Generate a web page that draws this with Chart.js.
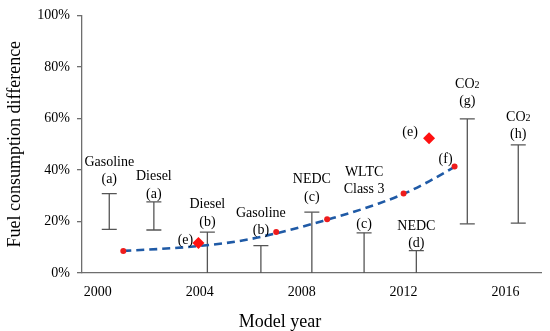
<!DOCTYPE html>
<html>
<head>
<meta charset="utf-8">
<script src="https://cdn.jsdelivr.net/npm/chart.js@4"></script>
<style>
  html, body { margin: 0; padding: 0; background: #fff; }
  #wrap { width: 550px; height: 331px; }
</style>
</head>
<body>
<div id="wrap"><canvas id="chart" width="550" height="331"></canvas></div>
<script>
// vertical ranges (a)..(h)
const barYears = [2000.45, 2002.2, 2004.3, 2006.4, 2008.4, 2010.45, 2012.5, 2014.5, 2016.5]
const barLow = [16.9, 16.7, 0, 0, 0, 0, 0, 19.1, 19.4]
const barHigh = [30.8, 27.6, 15.9, 10.6, 23.6, 15.6, 8.7, 59.8, 49.7]
const barLines = [
  ['Gasoline', '(a)'], ['Diesel', '(a)'], ['Diesel', '(b)'], ['Gasoline', '(b)'],
  ['NEDC', '(c)'], ['WLTC', 'Class 3', '', '(c)'], ['NEDC', '(d)'], ['CO2', '(g)'], ['CO2', '(h)']
]

// trend curve
const trendYears = [2001, 2002, 2003, 2004, 2005, 2006, 2007, 2008, 2009, 2010, 2011, 2012, 2013, 2014]
const trendValues = [8.6, 9.1, 9.7, 10.5, 11.6, 13.2, 15.4, 17.9, 20.7, 23.6, 26.9, 30.7, 35.6, 41.2]

// red dots (f) and diamonds (e)
const dotYears = [2001, 2007, 2009, 2012, 2014]
const dotValues = [8.5, 15.9, 20.9, 30.9, 41.3]
const diamondYears = [2003.95, 2013]
const diamondValues = [11.6, 52.3]

const xTicks = [2000, 2004, 2008, 2012, 2016]
const yTicks = [0, 20, 40, 60, 80, 100]

const SERIF = "'Liberation Serif', 'Times New Roman', serif"
Chart.defaults.font.family = SERIF
Chart.defaults.color = '#000'

const rangeSets = barYears.map((yr, i) => ({
  type: 'line',
  data: [{ x: yr, y: barLow[i] }, { x: yr, y: barHigh[i] }],
  borderColor: '#555',
  borderWidth: 1.3,
  pointStyle: 'line',
  pointRadius: [barLow[i] > 0 ? 7.5 : 0, 7.5],
  pointBorderColor: '#555',
  pointBorderWidth: 1.3,
  order: 3
}))

// text next to the marks, anchored on data points
const pointNotes = [
  { text: '(e)', x: diamondYears[0], y: diamondValues[0], dx: -13, dy: -3 },
  { text: '(e)', x: diamondYears[1], y: diamondValues[1], dx: -19, dy: -6 },
  { text: '(f)', x: dotYears[4], y: dotValues[4], dx: -9, dy: -7 }
]

function drawText(ctx, txt, x, y) {
  if (txt === 'CO2') {
    ctx.font = '14px ' + SERIF
    const w1 = ctx.measureText('CO').width
    ctx.font = '10px ' + SERIF
    const w2 = ctx.measureText('2').width
    let sx = x - (w1 + w2) / 2
    ctx.textAlign = 'left'
    ctx.textBaseline = 'alphabetic'
    ctx.font = '14px ' + SERIF
    ctx.fillText('CO', sx, y + 5)
    ctx.font = '10px ' + SERIF
    ctx.fillText('2', sx + w1, y + 5)
    return
  }
  ctx.font = '14px ' + SERIF
  ctx.textAlign = 'center'
  ctx.textBaseline = 'middle'
  ctx.fillText(txt, x, y)
}

const labelOffsets = [14, 8, 10, 15, 15, 8, 7, 18, 11]

const notesPlugin = {
  id: 'notes',
  afterDatasetsDraw(chart) {
    const { ctx, scales: { x, y } } = chart
    ctx.save()
    ctx.fillStyle = '#000'
    barYears.forEach((yr, i) => {
      const px = x.getPixelForValue(yr)
      const top = y.getPixelForValue(barHigh[i])
      const lines = barLines[i]
      lines.forEach((t, j) => {
        if (!t) return
        const k = lines.length - 1 - j
        drawText(ctx, t, px, top - labelOffsets[i] - k * 17.5)
      })
    })
    pointNotes.forEach(n => {
      drawText(ctx, n.text, x.getPixelForValue(n.x) + n.dx, y.getPixelForValue(n.y) + n.dy)
    })
    // x axis title
    ctx.font = '18px ' + SERIF
    ctx.textAlign = 'center'
    ctx.textBaseline = 'middle'
    ctx.fillText('Model year', 280, 322)
    ctx.restore()
  }
}

new Chart(document.getElementById('chart'), {
  type: 'line',
  data: {
    datasets: [
      {
        data: dotYears.map((v, i) => ({ x: v, y: dotValues[i] })),
        showLine: false,
        pointStyle: 'circle',
        pointRadius: 3,
        pointBackgroundColor: '#ee1c1c',
        pointBorderWidth: 0,
        order: 0
      },
      {
        data: diamondYears.map((v, i) => ({ x: v, y: diamondValues[i] })),
        showLine: false,
        pointStyle: 'rectRot',
        pointRadius: 6,
        pointBackgroundColor: '#ff1010',
        pointBorderWidth: 0,
        order: 0
      },
      {
        data: trendYears.map((v, i) => ({ x: v, y: trendValues[i] })),
        borderColor: '#1f5aa6',
        borderWidth: 2.6,
        borderDash: [8, 5],
        pointRadius: 0,
        cubicInterpolationMode: 'monotone',
        order: 1
      },
      ...rangeSets
    ]
  },
  options: {
    responsive: false,
    animation: false,
    layout: { padding: { top: 9, right: 2, left: 0, bottom: 0 } },
    plugins: { legend: { display: false }, tooltip: { enabled: false } },
    scales: {
      x: {
        type: 'linear',
        min: 1999.38,
        max: 2017.4,
        afterBuildTicks: s => { s.ticks = xTicks.map(v => ({ value: v })) },
        afterFit: s => { s.height = 58 },
        grid: { display: false, drawTicks: false },
        border: { color: '#6e6e6e', width: 1.3 },
        ticks: { font: { size: 14 }, color: '#000', padding: 11, maxRotation: 0, callback: v => String(v) }
      },
      y: {
        min: 0,
        max: 100,
        afterBuildTicks: s => { s.ticks = yTicks.map(v => ({ value: v })) },
        afterFit: s => { s.width = 82 },
        grid: { drawOnChartArea: false, drawTicks: true, tickLength: 5, color: '#6e6e6e', lineWidth: 1.3 },
        border: { color: '#6e6e6e', width: 1.3 },
        ticks: { font: { size: 14 }, color: '#000', padding: 7, callback: v => v + '%' },
        title: { display: true, text: 'Fuel consumption difference', font: { size: 18 }, color: '#000', padding: { top: 4, bottom: 4 } }
      }
    }
  },
  plugins: [notesPlugin]
})
</script>
</body>
</html>
